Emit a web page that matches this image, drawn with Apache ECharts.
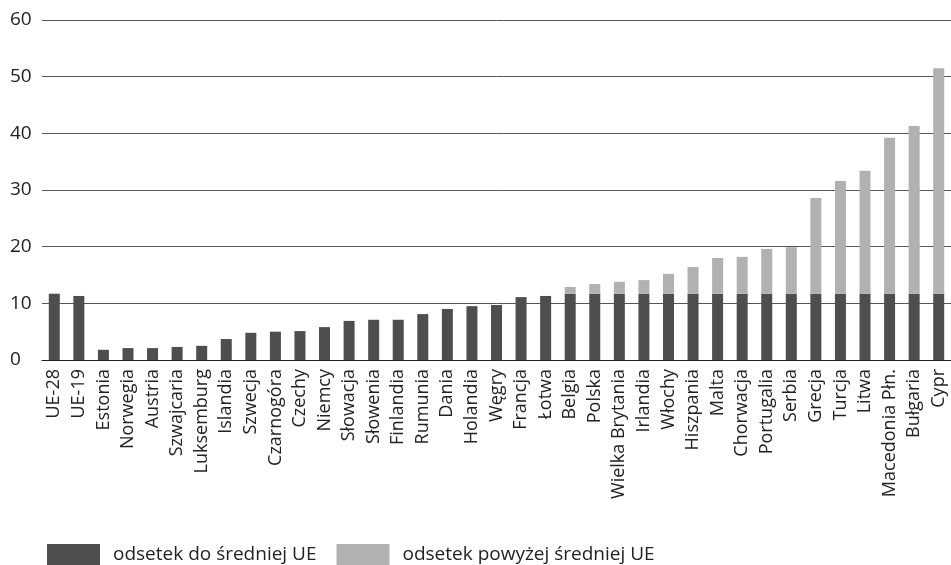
<!DOCTYPE html>
<html>
<head>
<meta charset="utf-8">
<script src="https://cdn.jsdelivr.net/npm/echarts@6/dist/echarts.min.js"></script>
<style>
html,body{margin:0;padding:0;background:#fff;}
#chart{width:951px;height:565px;}
</style>
</head>
<body>
<div id="chart"></div>
<script>
const categories = ['UE-28','UE-19','Estonia','Norwegia','Austria','Szwajcaria','Luksemburg','Islandia','Szwecja','Czarnogóra','Czechy','Niemcy','Słowacja','Słowenia','Finlandia','Rumunia','Dania','Holandia','Węgry','Francja','Łotwa','Belgia','Polska','Wielka Brytania','Irlandia','Włochy','Hiszpania','Malta','Chorwacja','Portugalia','Serbia','Grecja','Turcja','Litwa','Macedonia Płn.','Bułgaria','Cypr'];
const belowAvg = [11.7,11.3,1.8,2.1,2.1,2.3,2.5,3.7,4.8,5.0,5.1,5.8,6.9,7.1,7.1,8.1,9.0,9.5,9.7,11.1,11.3,11.7,11.7,11.7,11.7,11.7,11.7,11.7,11.7,11.7,11.7,11.7,11.7,11.7,11.7,11.7,11.7];
const aboveAvg = [0,0,0,0,0,0,0,0,0,0,0,0,0,0,0,0,0,0,0,0,0,1.2,1.7,2.1,2.4,3.5,4.7,6.3,6.5,7.9,8.2,16.9,19.9,21.7,27.5,29.6,39.8];
const yTicks = [0,10,20,30,40,50,60];
const seriesNames = ['odsetek do średniej UE','odsetek powyżej średniej UE'];

const font = '"Open Sans", "Noto Sans", sans-serif';
const chart = echarts.init(document.getElementById('chart'), null, {renderer:'canvas'});
chart.setOption({
  animation:false,
  backgroundColor:'#fff',
  textStyle:{fontFamily:font},
  grid:{left:42, top:20, width:915, height:340, containLabel:false},
  legend:{
    left:47, top:544, padding:0, itemWidth:53, itemHeight:21, itemGap:20,
    icon:'rect',
    textStyle:{fontFamily:font, fontSize:19, color:'#222', padding:[0,0,0,8]},
    data:seriesNames
  },
  xAxis:{
    type:'category', data:categories,
    axisLine:{show:true, lineStyle:{color:'#222', width:1}},
    axisTick:{show:false},
    axisLabel:{interval:0, rotate:90, margin:9, fontSize:18, color:'#222', fontFamily:font}
  },
  yAxis:{
    type:'value', min:yTicks[0], max:yTicks[yTicks.length-1], interval:10,
    axisLine:{show:false}, axisTick:{show:false},
    axisLabel:{align:'left', margin:32, fontSize:19, color:'#222', fontFamily:font},
    splitLine:{lineStyle:{color:'#555', width:1}}
  },
  series:[
    {name:seriesNames[0], type:'bar', stack:'a', data:belowAvg, barWidth:11, itemStyle:{color:'#4e4e4e'}},
    {name:seriesNames[1], type:'bar', stack:'a', data:aboveAvg, barWidth:11, itemStyle:{color:'#b0b1b0'}}
  ]
});
</script>
</body>
</html>
